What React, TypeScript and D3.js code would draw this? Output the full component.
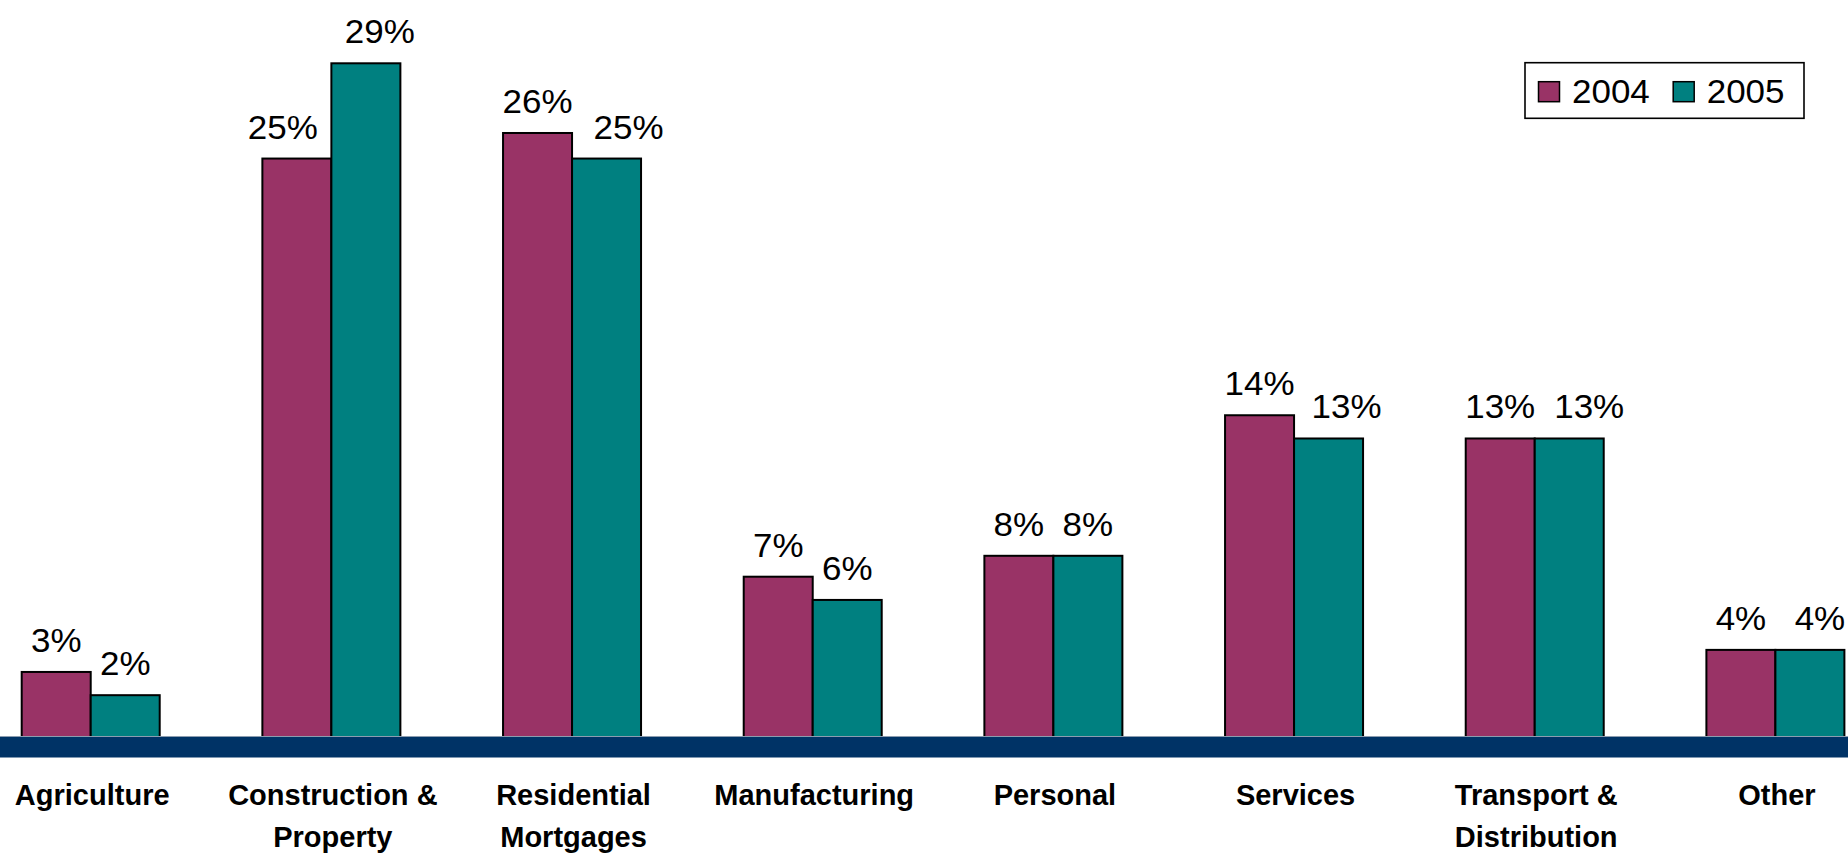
import React from "react";
import * as d3 from "d3";

const categories = [
  ["Agriculture"],
  ["Construction &", "Property"],
  ["Residential", "Mortgages"],
  ["Manufacturing"],
  ["Personal"],
  ["Services"],
  ["Transport &", "Distribution"],
  ["Other"],
];
const seriesNames = ["2004", "2005"];
const values2004 = [2.8, 24.9, 26.0, 6.9, 7.8, 13.85, 12.85, 3.75];
const values2005 = [1.8, 29.0, 24.9, 5.9, 7.8, 12.85, 12.85, 3.75];
const colors = ["#993366", "#008080"];
const labelNudge2004 = [0, -14, 0, 0, 0, 0, 0, 0];
const labelNudge2005 = [0, 14, 22, 0, 0, 18, 20, 10];

const W = 1848;
const H = 855;
const baseline = 737;

export default function App() {
  const keys = categories.map((c) => c.join(" "));
  const pi = 1 - 138 / 240.67;
  const x0 = d3
    .scaleBand<string>()
    .domain(keys)
    .range([-29.63, -29.63 + 8 * 240.67])
    .paddingInner(pi)
    .paddingOuter(pi / 2);
  const x1 = d3.scaleBand<string>().domain(seriesNames).range([0, x0.bandwidth()]);
  const y = d3.scaleLinear().domain([0, 29]).range([baseline, 63.3]);

  const series = [values2004, values2005];
  const nudges = [labelNudge2004, labelNudge2005];

  return (
    <div style={{ position: "fixed", left: 0, top: 0, width: W, height: H, overflow: "hidden", background: "#fff" }}>
      <svg width={W} height={H} style={{ display: "block" }} fontFamily="'Liberation Sans', Arial, sans-serif">
        <rect x={0} y={0} width={W} height={H} fill="#fff" />
        {keys.map((k, i) =>
          series.map((vals, s) => {
            const bx = (x0(k) as number) + (x1(seriesNames[s]) as number);
            const by = y(vals[i]);
            return (
              <rect
                key={k + s}
                x={bx}
                y={by}
                width={x1.bandwidth()}
                height={baseline - by}
                fill={colors[s]}
                stroke="#000"
                strokeWidth={2}
              />
            );
          })
        )}
        <line x1={0} x2={W} y1={736.5} y2={736.5} stroke="#8c9db0" strokeWidth={1} />
        <rect x={0} y={737} width={W} height={20.5} fill="#003366" />
        {keys.map((k, i) =>
          series.map((vals, s) => {
            const cx = (x0(k) as number) + (x1(seriesNames[s]) as number) + x1.bandwidth() / 2 + nudges[s][i];
            const ty = y(vals[i]) - 20;
            return (
              <text
                key={"l" + k + s}
                transform={`translate(${cx},${ty}) scale(1.06,1)`}
                textAnchor="middle"
                fontSize={33}
                fill="#000"
              >
                {Math.round(vals[i]) + "%"}
              </text>
            );
          })
        )}
        {categories.map((lines, i) => {
          const cx = (x0(keys[i]) as number) + x0.bandwidth() / 2 + 1.5;
          return (
            <text key={"c" + i} x={cx} y={805} textAnchor="middle" fontSize={29} fontWeight="bold" fill="#000">
              {lines.map((ln, j) => (
                <tspan key={j} x={cx} y={805 + j * 42}>
                  {ln}
                </tspan>
              ))}
            </text>
          );
        })}
        <g>
          <rect x={1525} y={62.7} width={279} height={55.6} fill="#fff" stroke="#000" strokeWidth={1.6} />
          {seriesNames.map((n, s) => {
            const sx = 1538.5 + s * 134.7;
            return (
              <g key={"lg" + n}>
                <rect x={sx} y={81.7} width={21} height={20} fill={colors[s]} stroke="#000" strokeWidth={1.5} />
                <text transform={`translate(${sx + 33.5},${102.7}) scale(1.06,1)`} fontSize={33} fill="#000">
                  {n}
                </text>
              </g>
            );
          })}
        </g>
      </svg>
    </div>
  );
}
